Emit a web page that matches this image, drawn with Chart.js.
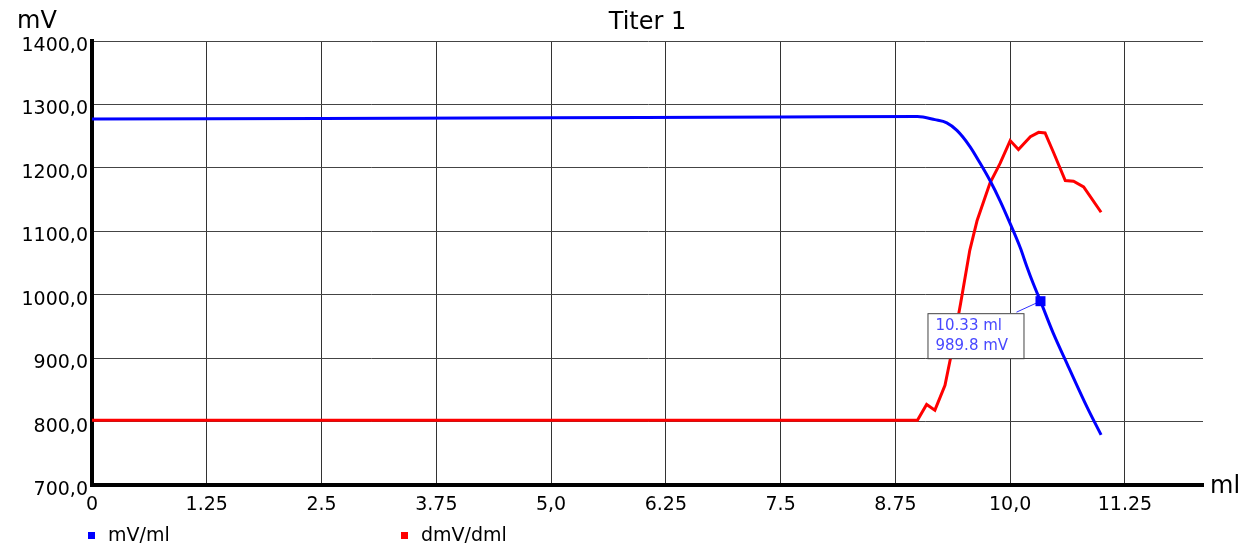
<!DOCTYPE html>
<html>
<head>
<meta charset="utf-8">
<title>Titer 1</title>
<script src="https://cdn.jsdelivr.net/npm/chart.js@4"></script>
<style>
  body { margin: 0; background: #fff; }
  #wrap { width: 1248px; height: 549px; }
</style>
</head>
<body>
<div id="wrap"><canvas id="titerChart" width="1248" height="549"></canvas></div>
<script>
// Curve data
const mvMl = [0, 2.5, 5.0, 7.5, 8.99, 9.18, 9.31, 9.42, 9.56, 9.67, 9.78, 9.89, 10.0, 10.11, 10.18, 10.25, 10.33, 10.47, 10.62, 10.84, 10.99];
const mvValues = [1277, 1278, 1279, 1280, 1281, 1276, 1271, 1259, 1234, 1208, 1180, 1148, 1112, 1074, 1045, 1018, 989.8, 939, 891, 822, 779];

const dmvMl = [0, 8.99, 9.09, 9.18, 9.29, 9.36, 9.46, 9.56, 9.64, 9.78, 9.89, 10.0, 10.09, 10.22, 10.31, 10.38, 10.47, 10.60, 10.69, 10.80, 10.99];
const dmvValues = [802, 802, 827, 818, 857, 907, 986, 1070, 1117, 1176, 1207, 1243, 1229, 1249, 1256, 1255, 1225, 1180, 1179, 1170, 1130];

// Axis ticks
const xTicks = [0, 1.25, 2.5, 3.75, 5.0, 6.25, 7.5, 8.75, 10.0, 11.25];
const xTickLabels = ['0', '1.25', '2.5', '3.75', '5,0', '6.25', '7.5', '8.75', '10,0', '11.25'];
const yTicks = [700, 800, 900, 1000, 1100, 1200, 1300, 1400];

// Marked point
const markMl = 10.33;
const markMv = 989.8;

const FONT = "'DejaVu Sans', Verdana, sans-serif";

function toPoints(xs, ys) {
    return xs.map((x, i) => ({ x: x, y: ys[i] }));
}

// Title, unit labels, legend and the point label box
const extrasPlugin = {
    id: 'extras',
    afterDatasetsDraw(chart) {
        const c = chart.ctx;
        const xs = chart.scales.x, ys = chart.scales.y;
        const px = xs.getPixelForValue(markMl);
        const py = ys.getPixelForValue(markMv);
        c.save();
        // connector
        c.strokeStyle = '#3030ff';
        c.lineWidth = 1;
        c.beginPath();
        c.moveTo(px, py);
        c.lineTo(px - 24, py + 11);
        c.stroke();
        // marker
        c.fillStyle = '#0000ff';
        c.fillRect(px - 5, py - 5, 10, 10);
        // box
        const bx = px - 113, by = py + 12, bw = 96, bh = 45;
        c.fillStyle = '#ffffff';
        c.fillRect(bx, by, bw, bh);
        c.strokeStyle = '#444';
        c.strokeRect(bx + 0.5, by + 0.5, bw, bh);
        c.fillStyle = '#4848ff';
        c.font = '15px ' + FONT;
        c.textBaseline = 'middle';
        c.textAlign = 'left';
        c.fillText(markMl.toFixed(2) + ' ml', bx + 8, by + 13);
        c.fillText(markMv.toFixed(1) + ' mV', bx + 8, by + 33);
        c.restore();
    },
    afterDraw(chart) {
        const c = chart.ctx;
        const area = chart.chartArea;
        c.save();
        c.fillStyle = '#000';
        c.textBaseline = 'middle';
        c.font = '24px ' + FONT;
        c.textAlign = 'center';
        c.fillText('Titer 1', (area.left + area.right) / 2, 23);
        c.textAlign = 'left';
        c.fillText('mV', 17, 22);
        c.fillText('ml', area.right + 7, area.bottom + 2);
        // legend
        c.font = '19px ' + FONT;
        const items = [
            { text: 'mV/ml', color: '#0000ff', x: 88 },
            { text: 'dmV/dml', color: '#ff0000', x: 401 }
        ];
        items.forEach(it => {
            c.fillStyle = it.color;
            c.fillRect(it.x, 532, 7, 7);
            c.fillStyle = '#000';
            c.fillText(it.text, it.x + 20, 536);
        });
        c.restore();
    }
};

const ctx = document.getElementById('titerChart').getContext('2d');
const titerChart = new Chart(ctx, {
    type: 'line',
    data: {
        datasets: [
            {
                label: 'mV/ml',
                data: toPoints(mvMl, mvValues),
                borderColor: '#0000ff',
                backgroundColor: '#0000ff',
                borderWidth: 3,
                pointRadius: 0,
                cubicInterpolationMode: 'monotone',
                order: 1
            },
            {
                label: 'dmV/dml',
                data: toPoints(dmvMl, dmvValues),
                borderColor: '#ff0000',
                backgroundColor: '#ff0000',
                borderWidth: 3,
                pointRadius: 0,
                tension: 0,
                order: 2
            }
        ]
    },
    options: {
        responsive: false,
        animation: false,
        layout: { padding: { left: 0, top: 41, right: 45, bottom: 0 } },
        plugins: {
            legend: { display: false },
            title: { display: false },
            tooltip: { enabled: false }
        },
        scales: {
            x: {
                type: 'linear',
                min: 0,
                max: 12.1,
                afterBuildTicks: axis => { axis.ticks = xTicks.map(v => ({ value: v })); },
                afterFit: scale => { scale.height = 64; },
                grid: { color: '#333', lineWidth: 1, drawTicks: false },
                border: { display: true, color: '#000', width: 4 },
                ticks: {
                    padding: 9,
                    color: '#000',
                    font: { family: FONT, size: 19 },
                    maxRotation: 0,
                    autoSkip: false,
                    callback: v => {
                        const i = xTicks.indexOf(v);
                        return i >= 0 ? xTickLabels[i] : '';
                    }
                }
            },
            y: {
                min: 700,
                max: 1400,
                afterBuildTicks: axis => { axis.ticks = yTicks.map(v => ({ value: v })); },
                afterFit: scale => { scale.width = 92; },
                grid: { color: '#444', lineWidth: 1, drawTicks: false },
                border: { display: true, color: '#000', width: 4 },
                ticks: {
                    padding: 4,
                    labelOffset: 5,
                    color: '#000',
                    font: { family: FONT, size: 19 },
                    callback: v => v.toFixed(1).replace('.', ',')
                }
            }
        }
    },
    plugins: [extrasPlugin]
});
</script>
</body>
</html>
